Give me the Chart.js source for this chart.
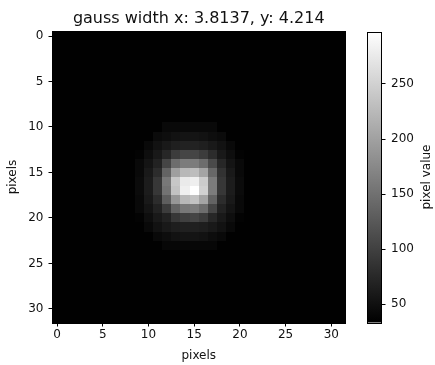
<!DOCTYPE html>
<html><head><meta charset="utf-8">
<script src="https://cdn.jsdelivr.net/npm/chart.js@4.4.0/dist/chart.umd.min.js"></script>
<style>html,body{margin:0;padding:0;background:#fff;}#wrap{width:435px;height:365px;}</style>
</head><body><div id="wrap"><canvas id="c" width="435" height="365"></canvas></div>
<script>
const titleText = 'gauss width x: 3.8137, y: 4.214';
const xLabel = 'pixels';
const yLabel = 'pixels';
const cbLabel = 'pixel value';
const nRows = 32;
const nCols = 32;
const backgroundValue = 35;
const peakRow0 = 10;
const peakCol0 = 9;
// rows 10..23, cols 9..20
const peakValues = [
  [35,35,35,43,43,43,43,43,43,35,35,35],
  [35,35,45,48,52,54,54,52,48,45,35,35],
  [35,43,52,59,66,69,69,66,59,52,43,35],
  [37,48,59,74,95,105,105,95,79,59,48,37],
  [43,54,69,105,146,162,162,146,110,74,54,43],
  [43,59,79,136,198,224,229,203,141,85,59,43],
  [45,62,90,157,239,275,280,244,162,90,62,45],
  [45,62,90,152,234,280,297,249,162,90,62,45],
  [43,59,79,131,188,224,234,203,136,79,59,43],
  [43,54,69,95,136,157,162,146,105,69,54,43],
  [37,48,59,69,90,100,105,95,74,59,48,37],
  [35,43,52,59,64,67,67,64,59,52,43,35],
  [35,35,43,47,52,54,54,52,47,43,35,35],
  [35,35,35,41,41,41,41,41,41,35,35,35]
];
const xTicks = [0,5,10,15,20,25,30];
const yTicks = [0,5,10,15,20,25,30];
const cbTicks = [50,100,150,200,250];
const cbMin = 33.5;
const cbMax = 297;

const cells = [];
for (let r = 0; r < nRows; r++) {
  for (let c = 0; c < nCols; c++) {
    const pr = r - peakRow0, pc = c - peakCol0;
    let v = backgroundValue;
    if (pr >= 0 && pr < peakValues.length && pc >= 0 && pc < peakValues[0].length) v = peakValues[pr][pc];
    cells.push({x: c, y: r, v: v});
  }
}

function gray(v) {
  let t = (v - cbMin) / (cbMax - cbMin);
  t = Math.max(0, Math.min(1, t));
  const g = Math.round(t * 255);
  return 'rgb(' + g + ',' + g + ',' + g + ')';
}

const FONT = 'DejaVu Sans';
const TXT = '#111';

const heatPlugin = {
  id: 'heat',
  beforeDatasetsDraw(chart) {
    const {ctx, scales} = chart;
    const xs = scales.x, ys = scales.y;
    ctx.save();
    for (const p of chart.data.datasets[0].data) {
      const x0 = Math.round(xs.getPixelForValue(p.x - 0.5));
      const x1 = Math.round(xs.getPixelForValue(p.x + 0.5));
      const y0 = Math.round(ys.getPixelForValue(p.y - 0.5));
      const y1 = Math.round(ys.getPixelForValue(p.y + 0.5));
      ctx.fillStyle = gray(p.v);
      ctx.fillRect(Math.min(x0, x1), Math.min(y0, y1), Math.abs(x1 - x0), Math.abs(y1 - y0));
    }
    ctx.restore();
  },
  afterDatasetsDraw(chart) {
    const {ctx, chartArea, scales} = chart;
    ctx.save();
    ctx.strokeStyle = '#000';
    ctx.lineWidth = 1;
    const l = Math.round(chartArea.left) - 0.5, t = Math.round(chartArea.top) - 0.5;
    const rr = Math.round(chartArea.right) + 0.5, b = Math.round(chartArea.bottom) + 0.5;
    ctx.strokeRect(l, t, rr - l, b - t);
    // title
    ctx.fillStyle = TXT;
    ctx.font = '16px "' + FONT + '"';
    ctx.textAlign = 'center';
    ctx.textBaseline = 'alphabetic';
    ctx.fillText(titleText, (chartArea.left + chartArea.right) / 2, 23.3);
    // colorbar
    const cb = scales.y2;
    const cx0 = 367, cx1 = 381;
    const yTop = cb.getPixelForValue(cbMax), yBot = cb.getPixelForValue(cbMin);
    const grad = ctx.createLinearGradient(0, yBot, 0, yTop);
    grad.addColorStop(0, '#000');
    grad.addColorStop(1, '#fff');
    ctx.fillStyle = grad;
    ctx.fillRect(cx0, yTop, cx1 - cx0, yBot - yTop);
    ctx.strokeRect(cx0 + 0.5, Math.round(yTop) + 0.5, cx1 - cx0, Math.round(yBot - yTop));
    ctx.beginPath();
    for (const tv of cbTicks) {
      const py = Math.round(cb.getPixelForValue(tv)) + 0.5;
      ctx.moveTo(cx1 + 0.5, py);
      ctx.lineTo(cx1 + 4.5, py);
    }
    ctx.stroke();
    ctx.translate(426.5, (yTop + yBot) / 2);
    ctx.rotate(-Math.PI / 2);
    ctx.fillStyle = TXT;
    ctx.font = '12px "' + FONT + '"';
    ctx.textAlign = 'center';
    ctx.textBaseline = 'middle';
    ctx.fillText(cbLabel, 0, 0);
    ctx.restore();
  }
};

const tickFont = {family: FONT, size: 12};
const grid = {display: true, drawOnChartArea: false, drawTicks: true, tickLength: 4, color: '#000', lineWidth: 1};
function noPad(s) { s.paddingTop = 0; s.paddingBottom = 0; s.paddingLeft = 0; s.paddingRight = 0; }

new Chart(document.getElementById('c'), {
  type: 'scatter',
  data: {datasets: [{data: cells, pointRadius: 0, pointHoverRadius: 0, xAxisID: 'x', yAxisID: 'y'}]},
  options: {
    responsive: false,
    animation: false,
    devicePixelRatio: 1,
    events: [],
    layout: {padding: {left: 0, right: 0, top: 31.5, bottom: 0}},
    plugins: {
      legend: {display: false},
      tooltip: {enabled: false},
      title: {display: false}
    },
    scales: {
      x: {
        type: 'linear', position: 'bottom', min: -0.5, max: 31.5,
        afterBuildTicks: s => { s.ticks = xTicks.map(v => ({value: v})); },
        afterFit: s => { s.height = 42.5; noPad(s); },
        ticks: {autoSkip: false, maxRotation: 0, padding: 1, color: TXT, font: tickFont, callback: v => String(v)},
        grid: grid,
        border: {display: false},
        title: {display: true, text: xLabel, color: TXT, font: {family: FONT, size: 12}, padding: {top: 0, bottom: 1.5}}
      },
      y: {
        type: 'linear', position: 'left', reverse: true, min: -0.5, max: 31.5,
        afterBuildTicks: s => { s.ticks = yTicks.map(v => ({value: v})); },
        afterFit: s => { s.width = 52.5; noPad(s); },
        ticks: {autoSkip: false, padding: 5, color: TXT, font: tickFont, callback: v => String(v)},
        grid: grid,
        border: {display: false},
        title: {display: true, text: yLabel, color: TXT, font: {family: FONT, size: 12}, padding: {top: 6, bottom: 0}}
      },
      y2: {
        type: 'linear', position: 'right', min: cbMin, max: cbMax,
        afterBuildTicks: s => { s.ticks = cbTicks.map(v => ({value: v})); },
        afterFit: s => { s.width = 90; noPad(s); },
        ticks: {autoSkip: false, padding: 46, color: TXT, font: tickFont, callback: v => String(v)},
        grid: {display: false, drawTicks: false, drawOnChartArea: false},
        border: {display: false}
      }
    }
  },
  plugins: [heatPlugin]
});
</script>
</body></html>
